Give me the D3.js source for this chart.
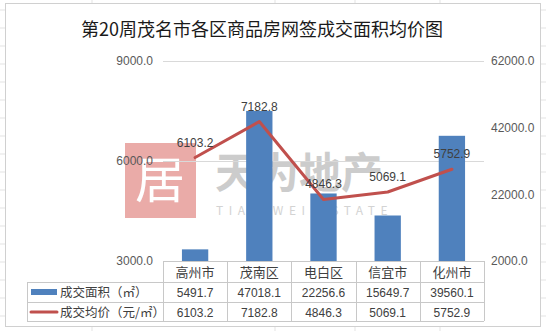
<!DOCTYPE html>
<html>
<head>
<meta charset="utf-8">
<script src="https://cdn.jsdelivr.net/npm/d3@7"></script>
<style>
  body { margin: 0; background: #ffffff; }
  svg { display: block; font-family: "Noto Sans CJK SC", "Noto Sans", sans-serif; }
</style>
</head>
<body>
<div id="chart"></div>
<script>
// Chart data
var districts = ["高州市", "茂南区", "电白区", "信宜市", "化州市"];
var areaValues = [5491.7, 47018.1, 22256.6, 15649.7, 39560.1];
var priceValues = [6103.2, 7182.8, 4846.3, 5069.1, 5752.9];
var leftTicks = [3000, 6000, 9000];
var rightTicks = [2000, 22000, 42000, 62000];
var seriesNames = ["成交面积（㎡）", "成交均价（元/㎡）"];
var titleText = "第20周茂名市各区商品房网签成交面积均价图";

var svgWidth = 546;
var svgHeight = 331;

// plot area
var plot = { left: 163, right: 484, top: 61, bottom: 261 };
var rowH = 20;
var legendLeft = 27;

var barColor = "#4f81bd";
var lineColor = "#c0504d";
var tableLine = "#c8c8c8";
var textColor = "#404040";

var svg = d3.select("#chart")
  .append("svg")
  .attr("width", svgWidth)
  .attr("height", svgHeight);

// spreadsheet background behind the chart
svg.append("rect")
  .attr("width", svgWidth).attr("height", svgHeight)
  .attr("fill", "#ffffff");
[92, 275, 355, 440].forEach(function(x) {
  svg.append("line").attr("x1", x).attr("x2", x).attr("y1", 0).attr("y2", svgHeight)
    .attr("stroke", "#e3e3e3");
});
d3.range(10, svgHeight, 18).forEach(function(y) {
  svg.append("line").attr("x1", 0).attr("x2", svgWidth).attr("y1", y).attr("y2", y)
    .attr("stroke", "#e3e3e3");
});

// chart area
svg.append("rect")
  .attr("x", 5.5).attr("y", 3.5)
  .attr("width", 535).attr("height", 323)
  .attr("fill", "#ffffff")
  .attr("stroke", "#d0d0d0");

// title
svg.append("text")
  .attr("x", 262).attr("y", 36)
  .attr("text-anchor", "middle")
  .attr("font-size", 18)
  .attr("fill", "#1a1a1a")
  .text(titleText);

// scales
var xScale = d3.scaleBand()
  .domain(districts)
  .range([plot.left, plot.right])
  .padding(0);

var yLeft = d3.scaleLinear()
  .domain([3000, 9000])
  .range([plot.bottom, plot.top]);

var yRight = d3.scaleLinear()
  .domain([2000, 62000])
  .range([plot.bottom, plot.top]);

// watermark
var wm = svg.append("g").attr("opacity", 0.5);
wm.append("rect")
  .attr("x", 125).attr("y", 143).attr("width", 71).attr("height", 75)
  .attr("fill", "#d65a54");
wm.append("text")
  .attr("x", 160).attr("y", 198)
  .attr("text-anchor", "middle")
  .attr("font-size", 50)
  .attr("fill", "#ffffff")
  .text("居");
wm.append("text")
  .attr("x", 215).attr("y", 188)
  .attr("font-size", 42)
  .attr("font-weight", "bold")
  .attr("fill", "#9a9a9a")
  .text("天为地产");
wm.append("text")
  .attr("x", 216).attr("y", 215)
  .attr("font-size", 12)
  .attr("letter-spacing", 5.5)
  .attr("fill", "#a8a8a8")
  .text("TIAN WEI ESTATE");

// gridlines from left axis ticks
svg.append("g")
  .selectAll("line")
  .data(leftTicks)
  .enter()
  .append("line")
  .attr("x1", plot.left).attr("x2", plot.right)
  .attr("y1", function(d) { return Math.round(yLeft(d)) + 0.5; })
  .attr("y2", function(d) { return Math.round(yLeft(d)) + 0.5; })
  .attr("stroke", "#d9d9d9");

// left axis
var leftAxis = d3.axisLeft(yLeft)
  .tickValues(leftTicks)
  .tickSize(0)
  .tickPadding(0)
  .tickFormat(d3.format(".1f"));

svg.append("g")
  .attr("transform", "translate(153,0)")
  .call(leftAxis)
  .call(function(g) { g.select(".domain").remove(); })
  .selectAll("text")
  .attr("font-size", 12)
  .attr("fill", "#595959")
  .attr("font-family", "Liberation Sans, Arial, sans-serif");

// right axis
var rightAxis = d3.axisRight(yRight)
  .tickValues(rightTicks)
  .tickSize(0)
  .tickPadding(0)
  .tickFormat(d3.format(".1f"));

svg.append("g")
  .attr("transform", "translate(491,0)")
  .call(rightAxis)
  .call(function(g) { g.select(".domain").remove(); })
  .selectAll("text")
  .attr("font-size", 12)
  .attr("fill", "#595959")
  .attr("font-family", "Liberation Sans, Arial, sans-serif");

// bars
var barWidth = xScale.bandwidth() * 0.41;
svg.append("g")
  .selectAll("rect")
  .data(areaValues)
  .enter()
  .append("rect")
  .attr("x", function(d, i) { return xScale(districts[i]) + (xScale.bandwidth() - barWidth) / 2; })
  .attr("y", function(d) { return yRight(d); })
  .attr("width", barWidth)
  .attr("height", function(d) { return plot.bottom - yRight(d); })
  .attr("fill", barColor);

// price line
var line = d3.line()
  .x(function(d, i) { return xScale(districts[i]) + xScale.bandwidth() / 2; })
  .y(function(d) { return yLeft(d); });

svg.append("path")
  .datum(priceValues)
  .attr("d", line)
  .attr("fill", "none")
  .attr("stroke", lineColor)
  .attr("stroke-width", 3)
  .attr("stroke-linejoin", "round")
  .attr("stroke-linecap", "round");

// price labels
svg.append("g")
  .selectAll("text")
  .data(priceValues)
  .enter()
  .append("text")
  .attr("x", function(d, i) { return xScale(districts[i]) + xScale.bandwidth() / 2; })
  .attr("y", function(d) { return yLeft(d) - 11; })
  .attr("text-anchor", "middle")
  .attr("font-size", 12)
  .attr("fill", textColor)
  .attr("font-family", "Liberation Sans, Arial, sans-serif")
  .text(function(d) { return d.toFixed(1); });

// data table
var table = svg.append("g");
var tTop = plot.bottom;
var r1 = tTop + 21, r2 = r1 + rowH, r3 = r2 + rowH - 1;

function hline(x1, x2, y) {
  table.append("line").attr("x1", x1).attr("x2", x2).attr("y1", y + 0.5).attr("y2", y + 0.5)
    .attr("stroke", tableLine);
}
function vline(x, y1, y2) {
  table.append("line").attr("x1", x + 0.5).attr("x2", x + 0.5).attr("y1", y1).attr("y2", y2)
    .attr("stroke", tableLine);
}
hline(plot.left, plot.right, tTop);
hline(legendLeft, plot.right, r1);
hline(legendLeft, plot.right, r2);
hline(legendLeft, plot.right, r3);
vline(legendLeft, r1, r3);
districts.forEach(function(c) { vline(Math.round(xScale(c)), tTop, r3); });
vline(plot.right, tTop, r3);

// category labels
table.selectAll(".cat")
  .data(districts)
  .enter()
  .append("text")
  .attr("x", function(d) { return xScale(d) + xScale.bandwidth() / 2; })
  .attr("y", tTop + 16)
  .attr("text-anchor", "middle")
  .attr("font-size", 13)
  .attr("fill", textColor)
  .text(function(d) { return d; });

// value rows
[areaValues, priceValues].forEach(function(vals, row) {
  table.selectAll(".row" + row)
    .data(vals)
    .enter()
    .append("text")
    .attr("x", function(d, i) { return xScale(districts[i]) + xScale.bandwidth() / 2; })
    .attr("y", (row === 0 ? r1 : r2) + 15)
    .attr("text-anchor", "middle")
    .attr("font-size", 12)
    .attr("fill", textColor)
    .attr("font-family", "Liberation Sans, Arial, sans-serif")
    .text(function(d) { return d.toFixed(1); });
});

// legend keys
table.append("rect")
  .attr("x", 31).attr("y", r1 + 7).attr("width", 26).attr("height", 6)
  .attr("fill", barColor);
table.append("line")
  .attr("x1", 31).attr("x2", 57).attr("y1", r2 + 10).attr("y2", r2 + 10)
  .attr("stroke", lineColor).attr("stroke-width", 3).attr("stroke-linecap", "round");

table.selectAll(".legendText")
  .data(seriesNames)
  .enter()
  .append("text")
  .attr("x", 60)
  .attr("y", function(d, i) { return (i === 0 ? r1 : r2) + 15; })
  .attr("font-size", 12.5)
  .attr("fill", textColor)
  .text(function(d) { return d; });
</script>
</body>
</html>
